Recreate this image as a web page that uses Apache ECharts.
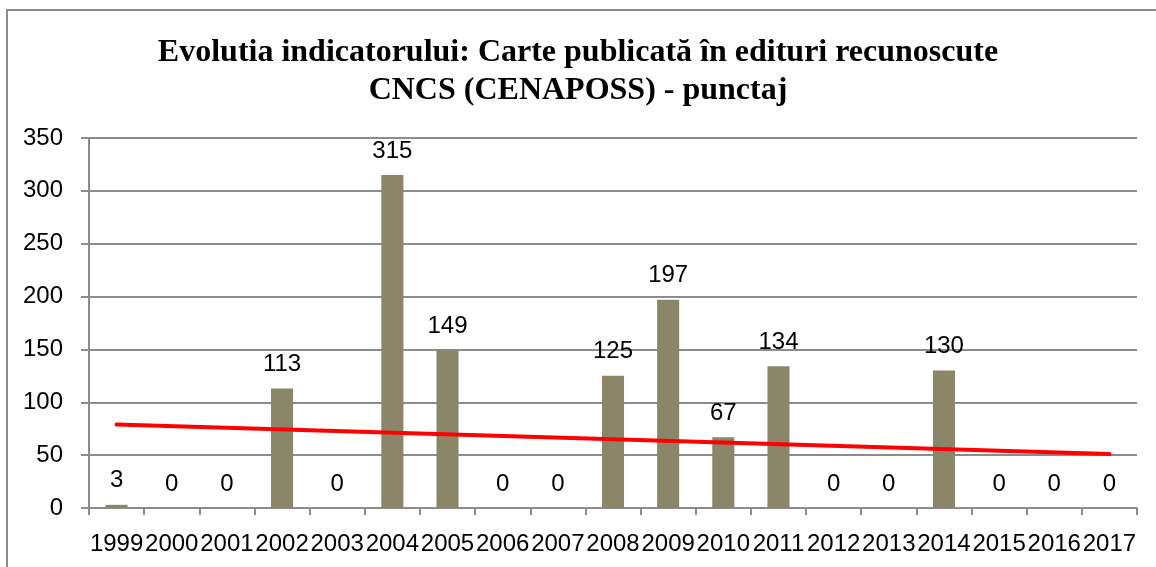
<!DOCTYPE html>
<html>
<head>
<meta charset="utf-8">
<script src="https://cdn.jsdelivr.net/npm/echarts@6/dist/echarts.min.js"></script>
<style>
  html, body { margin: 0; padding: 0; background: #fff; }
  #chart { width: 1156px; height: 567px; }
</style>
</head>
<body>
<div id="chart"></div>
<script>
// ani si punctaj
var years = ["1999", "2000", "2001", "2002", "2003", "2004", "2005", "2006", "2007", "2008",
  "2009", "2010", "2011", "2012", "2013", "2014", "2015", "2016", "2017"];
var punctaj = [3, 0, 0, 113, 0, 315, 149, 0, 0, 125, 197, 67, 134, 0, 0, 130, 0, 0, 0];
// linia de tendinta (capete)
var trendYears = ["1999", "2017"];
var trendValues = [79, 51];

var titleText = "Evolutia indicatorului: Carte publicată în edituri recunoscute\nCNCS (CENAPOSS) - punctaj";

var myChart = echarts.init(document.getElementById("chart"));
myChart.setOption({
  animation: false,
  backgroundColor: "#fff",
  graphic: [
    {
      type: "rect",
      shape: { x: 7, y: 10, width: 1300, height: 700 },
      style: { fill: "none", stroke: "#8c8c8c", lineWidth: 2 },
      silent: true,
    },
  ],
  title: {
    text: titleText,
    left: "center",
    top: 29,
    textStyle: {
      fontFamily: "Liberation Serif",
      fontWeight: "bold",
      fontSize: 32,
      lineHeight: 38,
      color: "#000",
    },
  },
  grid: { left: 89, right: 19, top: 138, bottom: 59 },
  xAxis: {
    type: "category",
    data: years,
    axisLine: { lineStyle: { color: "#8c8c8c", width: 2 } },
    axisTick: { show: true, length: 7, lineStyle: { color: "#8c8c8c", width: 2 } },
    axisLabel: {
      fontFamily: "Liberation Sans",
      fontSize: 24,
      color: "#000",
      margin: 24,
      interval: 0,
    },
  },
  yAxis: {
    type: "value",
    min: 0,
    max: 350,
    interval: 50,
    axisLine: { show: true, lineStyle: { color: "#8c8c8c", width: 2 } },
    axisTick: { show: true, length: 8, lineStyle: { color: "#8c8c8c", width: 2 } },
    splitLine: { lineStyle: { color: "#8c8c8c", width: 2 } },
    axisLabel: {
      fontFamily: "Liberation Sans",
      fontSize: 24,
      color: "#000",
      margin: 26,
    },
  },
  series: [
    {
      name: "punctaj",
      type: "bar",
      data: punctaj,
      barWidth: "40%",
      itemStyle: { color: "#8b8667" },
      label: {
        show: true,
        position: "top",
        distance: 12,
        fontFamily: "Liberation Sans",
        fontSize: 24,
        color: "#000",
      },
    },
    {
      name: "tendinta",
      type: "line",
      data: [
        [trendYears[0], trendValues[0]],
        [trendYears[1], trendValues[1]],
      ],
      symbol: "none",
      lineStyle: { color: "#ff0000", width: 4, cap: "round" },
      z: 5,
    },
  ],
});
</script>
</body>
</html>
